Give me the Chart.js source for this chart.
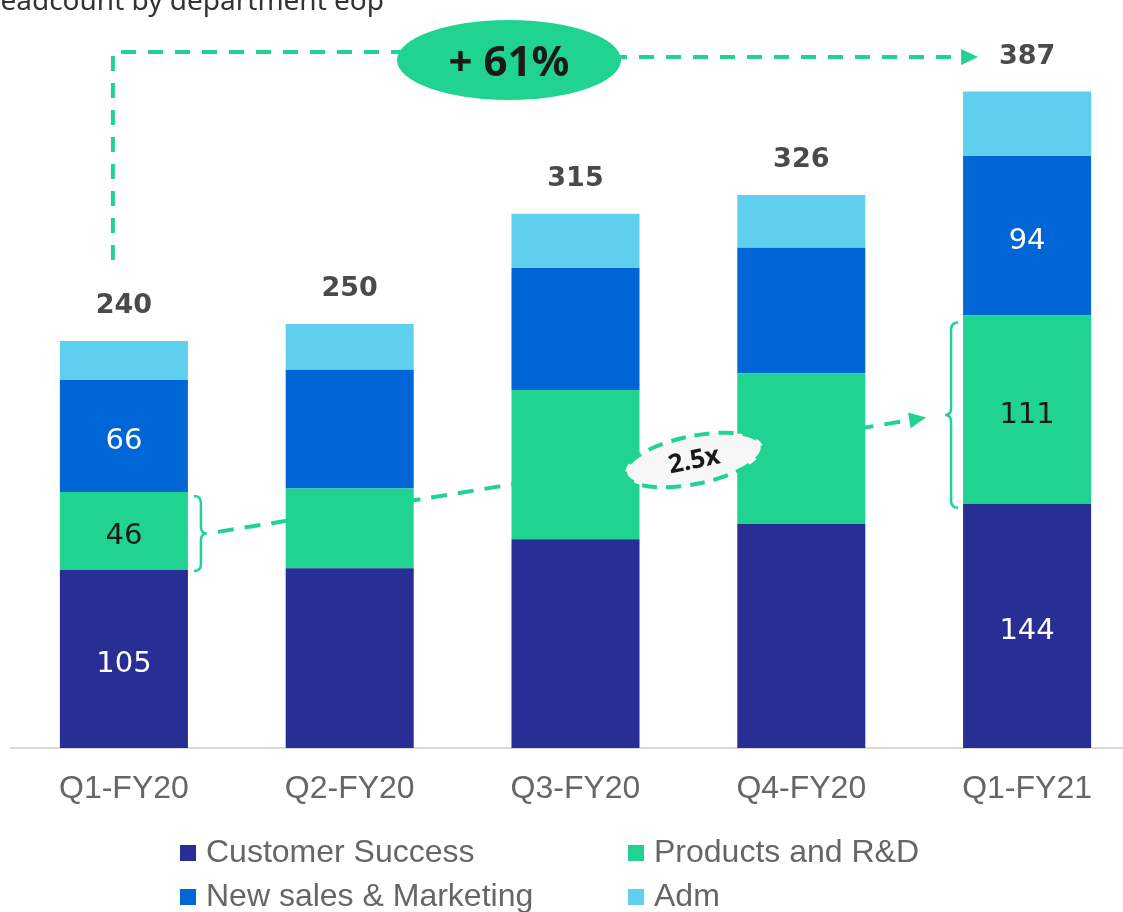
<!DOCTYPE html>
<html>
<head>
<meta charset="utf-8">
<script src="https://cdn.jsdelivr.net/npm/chart.js@4.4.0/dist/chart.umd.min.js"></script>
<style>
  html, body { margin: 0; padding: 0; background: #fff; overflow: hidden; }
  #wrap { position: absolute; left: 0; top: 0; width: 1151px; height: 912px; }
</style>
</head>
<body>
<div id="wrap"><canvas id="headcountChart" width="1151" height="912"></canvas></div>
<script>
// data
const categories = ['Q1-FY20', 'Q2-FY20', 'Q3-FY20', 'Q4-FY20', 'Q1-FY21'];
const customerSuccess = [105, 106, 123, 132, 144];
const productsRD = [46, 47, 88, 89, 111];
const newSales = [66, 70, 72, 74, 94];
const adm = [23, 27, 32, 31, 38];
const seriesNames = ['Customer Success', 'Products and R&D', 'New sales & Marketing', 'Adm'];
const seriesColors = ['#282e93', '#20d391', '#0066d6', '#5fcfee'];
const labelledColumns = [0, 4];      // only first and last bars show segment values
const labelledSeries = [0, 1, 2];
const growthLabel = '+ 61%';
const multipleLabel = '2.5x';
const titleText = 'Headcount by department eop';

const green = '#20d391';
const totals = categories.map((c, i) => customerSuccess[i] + productsRD[i] + newSales[i] + adm[i]);

function arrowHead(ctx, x1, y1, x2, y2) {
    const a = Math.atan2(y2 - y1, x2 - x1);
    ctx.save();
    ctx.translate(x2, y2);
    ctx.rotate(a);
    ctx.beginPath();
    ctx.moveTo(0, 0);
    ctx.lineTo(-17, -8);
    ctx.lineTo(-17, 8);
    ctx.closePath();
    ctx.fillStyle = green;
    ctx.fill();
    ctx.restore();
}

// curly brace, dir = 1 points right, -1 points left
function brace(ctx, x, yTop, yBot, dir) {
    const r = 7, ym = (yTop + yBot) / 2;
    ctx.save();
    ctx.strokeStyle = green;
    ctx.lineWidth = 2.5;
    ctx.setLineDash([]);
    ctx.beginPath();
    ctx.moveTo(x - dir * r, yTop);
    ctx.quadraticCurveTo(x, yTop, x, yTop + r);
    ctx.lineTo(x, ym - r);
    ctx.quadraticCurveTo(x, ym, x + dir * 6, ym);
    ctx.quadraticCurveTo(x, ym, x, ym + r);
    ctx.lineTo(x, yBot - r);
    ctx.quadraticCurveTo(x, yBot, x - dir * r, yBot);
    ctx.stroke();
    ctx.restore();
}

const annotations = {
    id: 'annotations',
    beforeDatasetsDraw(chart) {
        // dashed link between the two R&D segments, sits behind the bars
        const ctx = chart.ctx;
        const prod = chart.getDatasetMeta(1).data;
        const a = prod[0], b = prod[prod.length - 1];
        const x1 = a.x + a.width / 2 + 30, y1 = (a.y + a.base) / 2 + 1;
        const x2 = b.x - b.width / 2 - 37, y2 = (b.y + b.base) / 2 + 8;
        ctx.save();
        ctx.strokeStyle = green;
        ctx.lineWidth = 4;
        ctx.setLineDash([16, 11]);
        ctx.beginPath();
        ctx.moveTo(x1, y1);
        ctx.lineTo(x2 - 14, y2 + (y1 - y2) * 14 / (x2 - x1));
        ctx.stroke();
        ctx.restore();
        arrowHead(ctx, x1, y1, x2, y2);
    },
    afterDatasetsDraw(chart) {
        const ctx = chart.ctx;
        const metas = [0, 1, 2, 3].map(i => chart.getDatasetMeta(i));

        // values inside segments
        ctx.save();
        ctx.font = '29px "DejaVu Sans"';
        ctx.textAlign = 'center';
        ctx.textBaseline = 'middle';
        labelledColumns.forEach(c => {
            labelledSeries.forEach(s => {
                const el = metas[s].data[c];
                ctx.fillStyle = s === 1 ? '#1a1a1a' : '#ffffff';
                ctx.fillText(chart.data.datasets[s].data[c], el.x, (el.y + el.base) / 2 + 6);
            });
        });

        // totals above bars
        ctx.font = 'bold 27px "DejaVu Sans"';
        ctx.fillStyle = '#4a4a4a';
        totals.forEach((t, i) => {
            const el = metas[3].data[i];
            ctx.fillText(t, el.x, el.y - 35);
        });
        ctx.restore();

        // braces on the R&D segments
        const p0 = metas[1].data[0], p4 = metas[1].data[4];
        brace(ctx, p0.x + p0.width / 2 + 13, p0.y + 4, p0.base + 1, 1);
        brace(ctx, p4.x - p4.width / 2 - 12, p4.y + 7, p4.base + 4, -1);

        // 2.5x bubble
        ctx.save();
        ctx.translate(694, 460);
        ctx.rotate(-0.2);
        ctx.beginPath();
        ctx.ellipse(0, 0, 70, 24, 0, 0, Math.PI * 2);
        ctx.fillStyle = '#f7f7f7';
        ctx.fill();
        ctx.strokeStyle = green;
        ctx.lineWidth = 4;
        ctx.setLineDash([15, 9]);
        ctx.stroke();
        ctx.fillStyle = '#1a1a1a';
        ctx.font = 'bold 26px "Noto Sans"';
        ctx.textAlign = 'center';
        ctx.textBaseline = 'middle';
        ctx.fillText(multipleLabel, 0, 1);
        ctx.restore();

        // growth connector from first to last bar
        const first = metas[3].data[0], last = metas[3].data[4];
        const x0 = first.x - 11, xTip = last.x - 49;
        ctx.save();
        ctx.strokeStyle = green;
        ctx.lineWidth = 4;
        ctx.setLineDash([15, 12]);
        ctx.beginPath();
        ctx.moveTo(x0, first.y - 81);
        ctx.lineTo(x0, 52);
        ctx.lineTo(410, 52);
        ctx.stroke();
        ctx.beginPath();
        ctx.moveTo(612, 57);
        ctx.lineTo(xTip - 14, 57);
        ctx.stroke();
        ctx.restore();
        arrowHead(ctx, xTip - 30, 57, xTip, 57);

        ctx.save();
        ctx.beginPath();
        ctx.ellipse(509, 60, 112, 40, 0, 0, Math.PI * 2);
        ctx.fillStyle = green;
        ctx.fill();
        ctx.fillStyle = '#1a1a1a';
        ctx.font = 'bold 42px "Noto Sans"';
        ctx.textAlign = 'center';
        ctx.textBaseline = 'middle';
        ctx.fillText(growthLabel, 509, 64);
        ctx.restore();
    },
    afterDraw(chart) {
        const ctx = chart.ctx;
        ctx.save();
        // clipped title at the top
        ctx.font = '28px "Noto Sans"';
        ctx.fillStyle = '#333333';
        ctx.textAlign = 'right';
        ctx.textBaseline = 'alphabetic';
        ctx.fillText(titleText, 384, 10);

        // legend in two columns
        const colX = [180, 628], rowY = [852, 896];
        ctx.font = '32px "Liberation Sans"';
        ctx.textAlign = 'left';
        ctx.textBaseline = 'middle';
        chart.data.datasets.forEach((ds, i) => {
            const x = colX[i % 2], y = rowY[Math.floor(i / 2)];
            ctx.fillStyle = ds.backgroundColor;
            ctx.fillRect(x, y - 7, 16, 16);
            ctx.fillStyle = '#666666';
            ctx.fillText(ds.label, x + 26, y + 1);
        });
        ctx.restore();
    }
};

const datasets = [customerSuccess, productsRD, newSales, adm].map((d, i) => ({
    label: seriesNames[i],
    data: d,
    backgroundColor: seriesColors[i],
    borderWidth: 0,
    barPercentage: 0.567,
    categoryPercentage: 1
}));

new Chart(document.getElementById('headcountChart').getContext('2d'), {
    type: 'bar',
    data: { labels: categories, datasets: datasets },
    options: {
        responsive: false,
        animation: false,
        devicePixelRatio: 1,
        layout: { padding: { left: 11, right: 11, top: 0, bottom: 0 } },
        scales: {
            x: {
                stacked: true,
                grid: { display: false, drawTicks: false },
                border: { display: true, color: '#d9d9d9', width: 2 },
                ticks: { color: '#666666', font: { family: 'Liberation Sans', size: 32 }, padding: 22 },
                afterFit(scale) { scale.height = 164; }
            },
            y: {
                stacked: true,
                display: false,
                min: 0,
                max: 441
            }
        },
        plugins: {
            legend: { display: false },
            tooltip: { enabled: false }
        }
    },
    plugins: [annotations]
});
</script>
</body>
</html>
